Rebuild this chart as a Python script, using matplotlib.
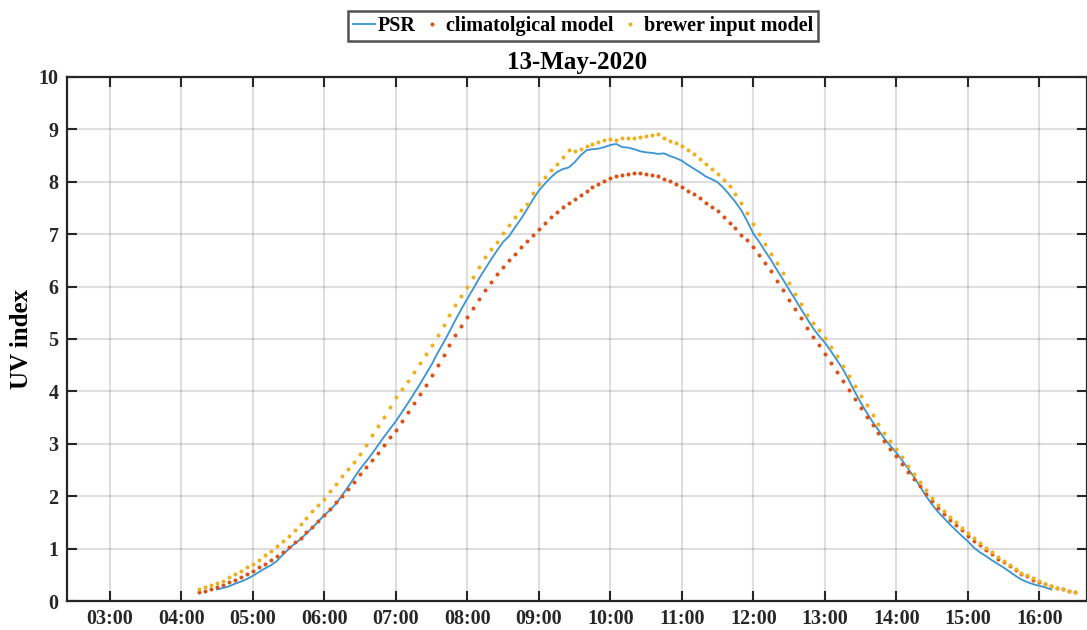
import numpy as np
import pandas as pd
import matplotlib
matplotlib.use("Agg")
import matplotlib.pyplot as plt
import matplotlib.dates as mdates

DAY = "2020-05-13"

# values, 5-minute spacing
CLIM_START = "04:15"
CLIM_UV = [
    0.17, 0.19, 0.23, 0.27, 0.31, 0.36, 0.41, 0.46, 0.52,
    0.58, 0.64, 0.71, 0.78, 0.86, 0.94, 1.03, 1.12, 1.21, 1.31, 1.42, 1.53,
    1.64, 1.76, 1.88, 2.01, 2.14, 2.28, 2.42, 2.55, 2.69, 2.83, 2.97, 3.12,
    3.27, 3.43, 3.60, 3.78, 3.95, 4.13, 4.32, 4.51, 4.70, 4.89, 5.07, 5.25,
    5.42, 5.59, 5.76, 5.93, 6.08, 6.23, 6.37, 6.50, 6.63, 6.75, 6.87, 6.99,
    7.10, 7.21, 7.32, 7.42, 7.51, 7.59, 7.67, 7.75, 7.82, 7.89, 7.96, 8.02,
    8.07, 8.10, 8.13, 8.15, 8.16, 8.16, 8.15, 8.13, 8.10, 8.06, 8.01, 7.96,
    7.90, 7.83, 7.76, 7.68, 7.60, 7.52, 7.44, 7.33, 7.22, 7.11, 6.99, 6.88,
    6.76, 6.61, 6.45, 6.29, 6.11, 5.93, 5.75, 5.57, 5.39, 5.21, 5.04, 4.88,
    4.72, 4.55, 4.37, 4.20, 4.02, 3.85, 3.68, 3.51, 3.35, 3.20, 3.05, 2.90,
    2.76, 2.62, 2.47, 2.33, 2.19, 2.05, 1.90, 1.78, 1.66, 1.55, 1.45, 1.35,
    1.25, 1.15, 1.06, 0.97, 0.89, 0.81, 0.74, 0.67, 0.59, 0.52, 0.47, 0.41,
    0.36, 0.32, 0.28, 0.25, 0.22, 0.19, 0.17,
]

BREWER_START = "04:15"
BREWER_UV = [
    0.22, 0.26, 0.30, 0.34, 0.39, 0.45, 0.51, 0.57, 0.64,
    0.71, 0.79, 0.87, 0.96, 1.05, 1.15, 1.25, 1.36, 1.47, 1.59, 1.71, 1.83,
    1.95, 2.09, 2.23, 2.38, 2.52, 2.66, 2.81, 2.98, 3.16, 3.34, 3.52, 3.71,
    3.90, 4.05, 4.20, 4.37, 4.54, 4.71, 4.89, 5.08, 5.27, 5.46, 5.64, 5.82,
    6.00, 6.18, 6.37, 6.56, 6.72, 6.85, 7.02, 7.18, 7.33, 7.46, 7.58, 7.78,
    7.96, 8.09, 8.22, 8.34, 8.48, 8.60, 8.58, 8.62, 8.68, 8.72, 8.76, 8.80,
    8.82, 8.80, 8.83, 8.84, 8.84, 8.86, 8.87, 8.90, 8.91, 8.84, 8.78, 8.73,
    8.68, 8.60, 8.52, 8.43, 8.34, 8.25, 8.15, 8.03, 7.91, 7.77, 7.59, 7.40,
    7.20, 7.01, 6.82, 6.63, 6.44, 6.25, 6.06, 5.86, 5.66, 5.46, 5.31, 5.17,
    5.02, 4.84, 4.67, 4.49, 4.30, 4.11, 3.92, 3.74, 3.55, 3.37, 3.21, 3.05,
    2.90, 2.74, 2.58, 2.42, 2.27, 2.12, 1.97, 1.84, 1.72, 1.60, 1.50, 1.40,
    1.30, 1.20, 1.11, 1.02, 0.93, 0.84, 0.76, 0.69, 0.61, 0.54, 0.49, 0.43,
    0.38, 0.33, 0.29, 0.25, 0.22, 0.19, 0.17,
]

PSR_START = "04:30"
PSR_UV = [
    0.22, 0.25, 0.28, 0.33, 0.37, 0.42,
    0.48, 0.55, 0.62, 0.68, 0.76, 0.88, 0.99, 1.09, 1.18, 1.29, 1.40, 1.52,
    1.64, 1.74, 1.86, 2.02, 2.18, 2.35, 2.52, 2.66, 2.81, 2.97, 3.13, 3.28,
    3.43, 3.60, 3.77, 3.95, 4.13, 4.32, 4.51, 4.73, 4.93, 5.14, 5.36, 5.57,
    5.77, 5.96, 6.16, 6.34, 6.52, 6.69, 6.85, 6.96, 7.13, 7.29, 7.47, 7.66,
    7.83, 7.96, 8.08, 8.18, 8.24, 8.27, 8.37, 8.50, 8.60, 8.62, 8.63, 8.66,
    8.70, 8.72, 8.66, 8.65, 8.62, 8.58, 8.56, 8.55, 8.53, 8.54, 8.49, 8.45,
    8.40, 8.32, 8.25, 8.18, 8.10, 8.05, 7.99, 7.88, 7.75, 7.61, 7.45, 7.24,
    7.01, 6.85, 6.67, 6.50, 6.31, 6.13, 5.94, 5.76, 5.57, 5.39, 5.21, 5.06,
    4.93, 4.77, 4.60, 4.43, 4.22, 4.00, 3.79, 3.60, 3.42, 3.26, 3.10, 2.96,
    2.83, 2.68, 2.52, 2.36, 2.18, 2.00, 1.84, 1.70, 1.58, 1.46, 1.35, 1.24,
    1.14, 1.02, 0.93, 0.86, 0.78, 0.71, 0.64, 0.56, 0.48, 0.41, 0.36, 0.32,
    0.29, 0.26, 0.22,
]

X_LIMITS = ("02:24", "16:40")
Y_TICKS = list(range(0, 11))


def times(start, n):
    return pd.date_range(f"{DAY} {start}", periods=n, freq="5min")


plt.rcParams["font.family"] = ["Liberation Serif", "DejaVu Serif"]
plt.rcParams["font.weight"] = "bold"

fig = plt.figure(figsize=(10.87, 6.30), dpi=100)
ax = fig.add_axes([0.0616, 0.046, 0.9384, 0.832])

ax.plot(times(PSR_START, len(PSR_UV)), PSR_UV, color="#3a93d3", lw=1.3, label="PSR")
ax.plot(times(CLIM_START, len(CLIM_UV)), CLIM_UV, ls="none", marker="o", ms=2.9, mew=0,
        color="#D95319", label="climatolgical model")
ax.plot(times(BREWER_START, len(BREWER_UV)), BREWER_UV, ls="none", marker="o", ms=2.9, mew=0,
        color="#EDB120", label="brewer input model")

ax.set_xlim(pd.Timestamp(f"{DAY} {X_LIMITS[0]}"), pd.Timestamp(f"{DAY} {X_LIMITS[1]}"))
ax.set_ylim(0, 10)
ax.set_yticks(Y_TICKS)
ax.xaxis.set_major_locator(mdates.HourLocator())
ax.xaxis.set_major_formatter(mdates.DateFormatter("%H:%M"))

ax.grid(True, color="#262626", alpha=0.15, lw=1.5)
ax.set_axisbelow(True)
for sp in ax.spines.values():
    sp.set_color("#262626")
    sp.set_linewidth(1.6)
ax.tick_params(direction="in", length=7, width=1.5, top=True, right=True,
               labelsize=14.5, colors="#262626", pad=6)
for lab in ax.get_xticklabels() + ax.get_yticklabels():
    lab.set_fontweight("bold")

ax.set_ylabel("UV index", fontsize=18, fontweight="bold", labelpad=4)
ax.set_title("13-May-2020", fontsize=18, fontweight="bold", pad=6)

leg = fig.legend(loc="center", bbox_to_anchor=(0.5363, 0.958), ncol=3, frameon=True,
                 fancybox=False, edgecolor="#262626", handlelength=1.1,
                 handletextpad=0.15, columnspacing=0.25, borderpad=0.25,
                 prop={"weight": "bold", "size": 14.5})
leg.get_frame().set_linewidth(1.8)

fig.savefig("out.png", dpi=100)
